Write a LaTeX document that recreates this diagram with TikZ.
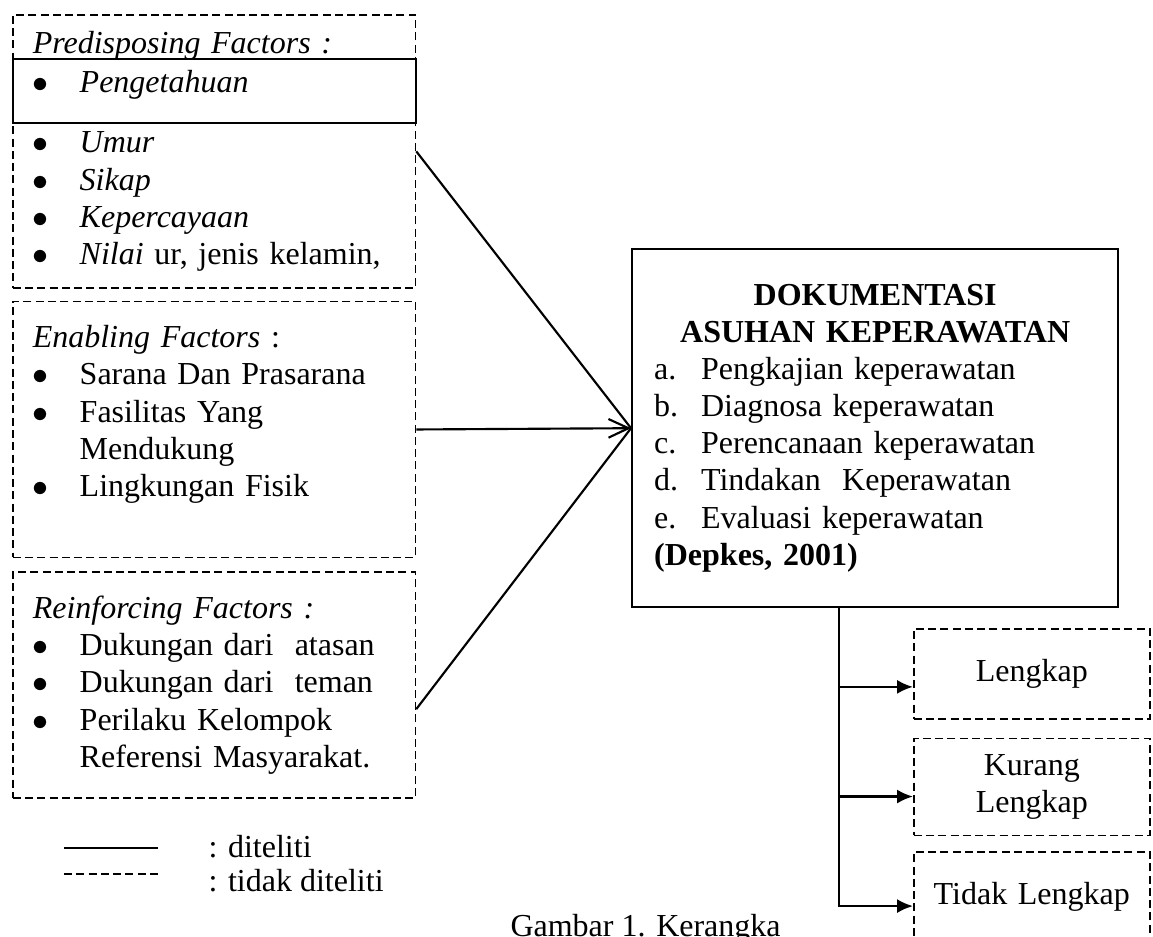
\documentclass[tikz,border=0pt]{standalone}
\usepackage{fontspec}
\setmainfont{Liberation Serif}
\usetikzlibrary{arrows.meta, positioning}
\setlength{\parindent}{0pt}
\tikzstyle{factor} = [rectangle, draw, dash pattern=on 3pt off 1.6pt, line width=0.6pt, text width=136pt, inner xsep=7.5pt, inner ysep=0pt, align=left]
\tikzstyle{keybox} = [rectangle, draw, line width=0.8pt, minimum width=151.1pt, minimum height=24pt]
\tikzstyle{docbox} = [rectangle, draw, line width=0.9pt, text width=165.75pt, inner xsep=8.25pt, minimum height=134.25pt]
\tikzstyle{outcome} = [rectangle, draw, dash pattern=on 3pt off 1.6pt, line width=0.6pt, text width=80pt, inner xsep=4.25pt, minimum height=33.75pt, align=center]
\tikzstyle{feed} = [line width=0.8pt]
\tikzstyle{branch} = [line width=0.9pt, -{Latex[length=6pt,width=5.3pt]}]
\tikzstyle{keytext} = [anchor=base west, inner sep=0pt]
\newcommand{\itm}[1]{\makebox[17.6pt][l]{$\bullet$}#1}
\newcommand{\cont}{\hspace*{17.6pt}}
\newcommand{\lbl}[1]{\makebox[17.6pt][l]{#1}}

\begin{document}
\begin{tikzpicture}[x=0.375pt, y=-0.375pt, font=\fontsize{12pt}{13.9pt}\selectfont]
  \useasboundingbox (0,0) rectangle (1153,936);
  \clip (0,0) rectangle (1153,936);
  % factor boxes on the left
  \node (pre) [factor, minimum height=102.4pt, anchor=north west] at (12,14) {\textit{Predisposing Factors :}\\[0.75pt]
    \itm{\textit{Pengetahuan}}\\[8.6pt]
    \itm{\textit{Umur}}\\
    \itm{\textit{Sikap}}\\
    \itm{\textit{Kepercayaan}}\\
    \itm{\textit{Nilai} ur, jenis kelamin,}};
  \node (know) [keybox, anchor=north west] at (12,58) {};
  \node (enab) [factor, minimum height=96pt, below=4.5pt of pre] {\textit{Enabling Factors} :\\
    \itm{Sarana Dan Prasarana}\\
    \itm{Fasilitas Yang}\\
    \cont Mendukung\\
    \itm{Lingkungan Fisik}\\
    \mbox{}};
  \node (reinf) [factor, minimum height=84.75pt, below=4.9pt of enab] {\textit{Reinforcing Factors :}\\
    \itm{Dukungan dari\ \ atasan}\\
    \itm{Dukungan dari\ \ teman}\\
    \itm{Perilaku Kelompok}\\
    \cont Referensi Masyarakat.};
  % documentation box
  \node (doc) [docbox, anchor=north west] at (631,248) {{\centering\bfseries DOKUMENTASI\\
    ASUHAN KEPERAWATAN\par}
    \lbl{a.}Pengkajian keperawatan\\
    \lbl{b.}Diagnosa keperawatan\\
    \lbl{c.}Perencanaan keperawatan\\
    \lbl{d.}Tindakan\ \ Keperawatan\\
    \lbl{e.}Evaluasi keperawatan\\
    \textbf{(Depkes, 2001)}};
  \draw [feed] (pre.east) -- (doc.west);
  \draw [feed, -{Straight Barb[length=7.5pt,width=7pt]}] (enab.east) -- (doc.west);
  \draw [feed] ([yshift=-9pt]reinf.east) -- (doc.west);
  % outcomes
  \node (full) [outcome, anchor=north west] at (913,628) {Lengkap};
  \node (part) [outcome, minimum height=36.4pt, below=6.75pt of full] {Kurang\\ Lengkap};
  \node (none) [outcome, below=5.6pt of part] {Tidak Lengkap};
  \coordinate (split) at ([xshift=-13.5pt]doc.south);
  \draw [branch] (split) |- ([yshift=-4.9pt]full.west);
  \draw [branch] (split) |- ([yshift=-3.6pt]part.west);
  \draw [branch] (split) |- ([yshift=-3.4pt]none.west);
  % legend
  \node (seen) [keytext] at (208,857) {: diteliti};
  \node (unseen) [keytext] at (208,891) {: tidak diteliti};
  \draw [line width=0.6pt] (64,848) -- (158,848);
  \draw [line width=0.6pt, dash pattern=on 3pt off 1.6pt] (64,874) -- (158,874);
  \node (cap) [keytext] at (510,936) {Gambar 1. Kerangka};
\end{tikzpicture}
\end{document}
